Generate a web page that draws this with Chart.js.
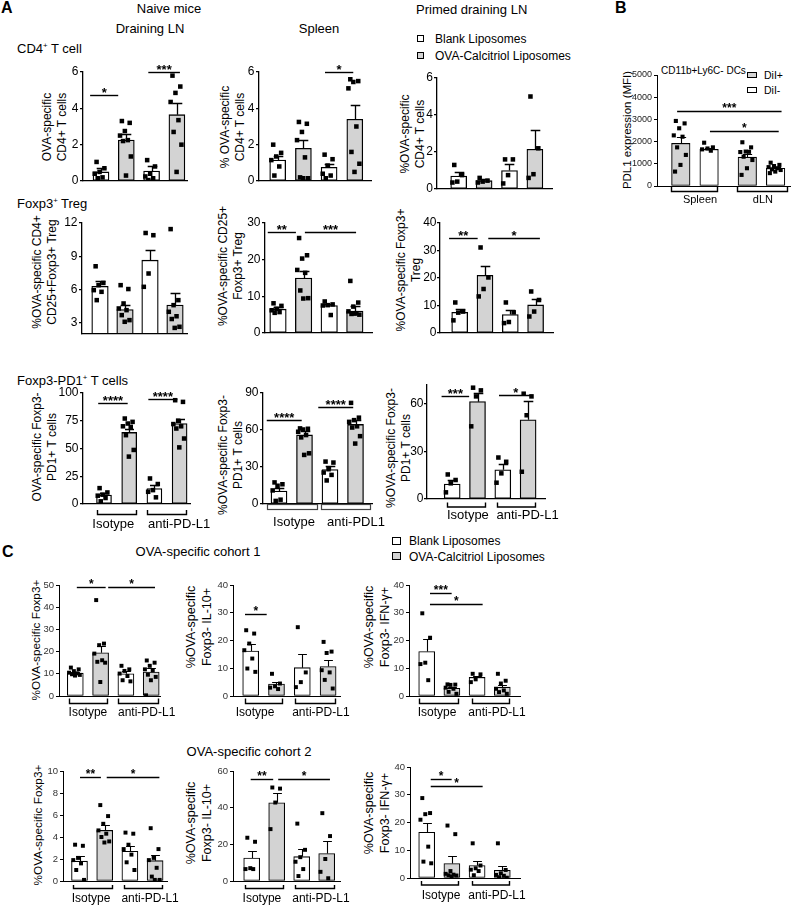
<!DOCTYPE html>
<html><head><meta charset="utf-8"><title>Figure</title>
<script src="https://cdn.jsdelivr.net/npm/chart.js@4.4.1/dist/chart.umd.min.js"></script>
<style>
html,body{margin:0;padding:0;background:#fff;overflow:hidden;width:796px;height:905px;}
#fig{position:relative;width:796px;height:905px;overflow:hidden;font-family:'Liberation Sans',Arial,Helvetica,sans-serif;color:#000;}
.t{position:absolute;white-space:nowrap;line-height:1;}
.t sup{font-size:0.6em;vertical-align:0.55em;line-height:0;}
.yt{position:absolute;white-space:nowrap;text-align:center;line-height:1.25;transform:translate(-50%,-50%) rotate(-90deg);}
canvas{position:absolute;}
.sq{position:absolute;box-sizing:border-box;border:1px solid #000;}
</style></head>
<body><div id="fig"></div>
<script>
// ---------- colours ----------
const WHITE = '#ffffff', GREY = '#d3d3d3';
const fillWG = [WHITE, GREY, WHITE, GREY];
const fillGW = [GREY, WHITE, GREY, WHITE];

// ---------- group labels ----------
const grpIso  = ['Isotype', 'anti-PD-L1'];
const grpIsoB = ['Isotype', 'anti-PDL1'];
const grpOrg  = ['Spleen', 'dLN'];

// ---------- tick labels ----------
const tA11 = [0, 2, 4, 6], tA12 = [0, 2, 4, 6], tA13 = [0, 2, 4, 6];
const tB   = [0, 1000, 2000, 3000, 4000, 5000];
const tA21 = [3, 6, 9, 12], tA22 = [0, 10, 20, 30], tA23 = [0, 10, 20, 30, 40];
const tA31 = [0, 25, 50, 75, 100], tA32 = [0, 30, 60, 90], tA33 = [0, 30, 60];
const tC11 = [0, 10, 20, 30, 40, 50], tC12 = [0, 10, 20, 30, 40], tC13 = [0, 10, 20, 30, 40];
const tC21 = [0, 2, 4, 6, 8, 10], tC22 = [0, 20, 40, 60], tC23 = [0, 10, 20, 30, 40];

// ---------- A: CD4+ T cells ----------
const a11Mean = [0.5, 2.25, 0.55, 3.65];
const a11Sem  = [0.2, 0.35, 0.25, 0.65];
const a11Pts  = [[1.05,0.7,0.5,0.4,0.2,0.15],[3.3,3.2,2.75,2.5,2.25,2.2,1.35,0.3],[1.15,0.8,0.4,0.25,0.15,0.05],[5.8,5.2,4.85,4.35,3.35,2.7,2.0,0.5]];
const a11Sig  = [[-0.43,0.68,4.75,'*'],[1.87,3.12,6.0,'***']];

const a12Mean = [1.15, 1.8, 0.75, 3.4];
const a12Sem  = [0.25, 0.45, 0.2, 0.8];
const a12Pts  = [[2.0,1.55,1.35,1.15,0.8,0.3],[3.25,3.15,2.7,2.25,1.3,0.2,0.15,0.15],[1.45,1.2,0.85,0.4,0.3,0.15],[5.6,5.5,5.45,5.1,3.0,1.6,0.95,0.5]];
const a12Sig  = [[1.84,2.94,6.0,'*']];

const a13Mean = [0.7, 0.45, 1.0, 2.15];
const a13Sem  = [0.2, 0.1, 0.35, 1.05];
const a13Pts  = [[1.3,0.75,0.4,0.35],[0.6,0.45,0.4,0.35],[1.6,1.6,0.75,0.3],[5.0,2.2,0.8,0.6]];
const a13Sig  = [];

// ---------- B: PDL1 MFI ----------
const bMean = [1920, 1650, 1300, 800];
const bSem  = [300, 80, 150, 60];
const bPts  = [[2930,2820,2600,2280,2220,1740,1400,950,650],[1950,1740,1690,1650,1590],[1970,1740,1550,1530,1540,1320,1170,800,500],[1050,950,900,850,800,750,720,650,580]];
const bSig  = [[-0.13,3.56,3400,'***'],[1.03,3.46,2500,'*']];

// ---------- A: Foxp3+ Treg ----------
const a21Mean = [6.3, 4.2, 8.65, 4.6];
const a21Sem  = [0.5, 0.45, 0.95, 1.05];
const a21Pts  = [[8.1,6.6,6.4,5.95,5.8,5.05],[6.4,6.05,4.75,4.3,4.15,3.7,3.25,3.1],[11.1,10.9,7.45,6.25],[11.45,5.05,4.6,4.0,3.6,3.35,2.65,2.55]];
const a21Sig  = [];

const a22Mean = [6.5, 15, 7.5, 6.0];
const a22Sem  = [0.6, 2.0, 0.3, 1.3];
const a22Pts  = [[8.1,7.4,6.6,6.2,5.7,5.5],[25.9,21.2,20.3,17.2,16.4,11.6,9.5,9.4],[8.6,7.8,7.6,7.5,4.9],[14.2,8.3,7.2,5.9,5.4,5.2,5.0,5.3]];
const a22Sig  = [[-0.4,0.7,27.6,'**'],[1.05,3.05,27.6,'***']];

const a23Mean = [7.5, 21, 6.7, 10.2];
const a23Sem  = [1.3, 3.5, 1.7, 2.1];
const a23Pts  = [[11.1,7.8,7.4,4.6],[31.1,20.2,16.0,13.3],[11.1,7.5,4.0,3.6],[15.1,12.0,7.8,6.0]];
const a23Sig  = [[-0.42,0.71,34.4,'**'],[1.13,3.17,34.4,'*']];

// ---------- A: Foxp3-PD1+ T cells ----------
const a31Mean = [8, 64.5, 14, 72.5];
const a31Sem  = [1.8, 3.5, 3.0, 4.5];
const a31Pts  = [[14.3,10.4,8.4,7.5,5.4,2.4],[77,74,72.5,70,69.5,62,48.7,42.7],[23,18,12.5,11,6],[93.5,92,75,72,70,68,59,51]];
const a31Sig  = [[-0.23,0.94,91,'****'],[1.76,2.91,95,'****']];

const a32Mean = [10.5, 56, 28, 64.5];
const a32Sem  = [2.5, 3.0, 2.5, 3.5];
const a32Pts  = [[17.5,16,14.8,11,3.5,2.5],[61.3,61,60.4,58.6,55.9,54,41.1,39.8],[34.4,33.6,28.2,25.5,23.6,19.1],[82,70,68,66.6,63,62,55,49]];
const a32Sig  = [[-0.48,0.89,68,'****'],[1.54,2.91,78.7,'****']];

const a33Mean = [9.5, 61.5, 18.5, 50];
const a33Sem  = [2.8, 5.5, 3.8, 12];
const a33Pts  = [[15.5,12,9.9,4.2],[70.3,68.6,64.8,45.9],[26.2,23.5,16.2,10.3],[66.5,64.8,52.9,17.2]];
const a33Sig  = [[-0.42,0.67,65.2,'***'],[1.85,3.18,65.7,'*']];

// ---------- C: cohort 1 ----------
const c11Mean = [10.3, 19.5, 10, 10.8];
const c11Sem  = [0.5, 3.0, 1.2, 1.7];
const c11Pts  = [[12.8,12,11.2,10.5,10.2,9.8,9.5,9.2],[43.2,23.6,22.9,19.1,16.1,15.4,15,6.3],[13.6,12,11.3,10.1,9,7.1,6.6],[16,15,13.6,12,11.6,9.6,8.6,7.1,0.3]];
const c11Sig  = [[0.06,1.2,49,'*'],[1.3,3.15,49,'*']];

const c12Mean = [16.2, 4.3, 10.2, 10.6];
const c12Sem  = [2.4, 0.9, 5.0, 2.5];
const c12Pts  = [[23.7,22.5,18.9,16.5,13.5,9.9,8.7],[8,4.5,3.5,3,2.5],[24.8,8.5,5,3.2],[19.5,16,15.5,9.3,8.5,5.8,2.7]];
const c12Sig  = [[-0.22,0.62,29.4,'*']];

const c13Mean = [16, 2.8, 6.7, 3.2];
const c13Sem  = [4.5, 0.6, 0.6, 0.9];
const c13Pts  = [[29.8,21,12,11.5,5.7],[4.2,4.1,4,3,2.6,1.5,0.8],[8,7.8,6,5],[8,5.5,4.5,2.6,2,1.4,0.8]];
const c13Sig  = [[0.13,0.99,37,'***'],[0.13,2.22,33.1,'*']];

// ---------- C: cohort 2 ----------
const c21Mean = [1.8, 4.6, 2.7, 1.85];
const c21Sem  = [0.45, 0.5, 0.45, 0.55];
const c21Pts  = [[3.3,3.2,2.1,1.9,1.6,1.0,0.1],[6.9,5.9,5.2,4.6,4.3,4.0,3.6,3.5],[4.4,4.3,3.3,2.9,2.4,1.7,1.0],[4.8,2.9,2.1,1.9,1.2,0.4,0.1,0.1]];
const c21Sig  = [[0.02,0.85,9.46,'**'],[1.08,3.17,9.46,'*']];

const c22Mean = [12.5, 42.7, 13.3, 15];
const c22Sem  = [4.0, 5.5, 4.0, 6.8];
const c22Pts  = [[23.6,21.4,7,6.5,6.5],[51,50.4,42.8,28.3],[31.3,17,13,10.5,6.5,2.7],[37,24.5,12,5,1.5]];
const c22Sig  = [[-0.04,0.86,55.5,'**'],[1.06,3.13,55.5,'*']];

const c23Mean = [16.5, 5.2, 4.5, 2.8];
const c23Sem  = [3.5, 2.8, 1.5, 1.6];
const c23Pts  = [[28.8,23.4,23,21,11.3,5.9,5.3],[18.9,15.8,2.5,1.5,1.2,1.0,0.9,0.5],[12.5,4.5,3.5,3,2.5,1],[12.5,2.9,1.7,1.1,0.8,0.3,0.1]];
const c23Sig  = [[0.16,0.99,35.8,'*'],[0.16,2.22,33,'*']];

// ---------- styles ----------
const FONT = "'Liberation Sans', Arial, Helvetica, sans-serif";
Chart.defaults.font.family = FONT;
const ST = {
  A: {tick:12, tl:3, pad:1.5, axis:1.3, bar:1.3, pr:3.2, star:13, lbl:13, tc:'#000', ebw:1.3, cap:0.6, starDy:1, sp:0.25},
  B: {tick:9, tl:3, pad:2, axis:1, bar:1.1, pr:2.9, star:12, lbl:11, tc:'#222', ebw:1.1, cap:0.5, starDy:0, sp:0.25},
  C: {tick:9.5, tl:3, pad:2, axis:1, bar:1.1, pr:2.8, star:12, lbl:12, tc:'#333', ebw:1.1, cap:0.55, starDy:0, sp:0.25}
};

const fig = document.getElementById('fig');

function txt(html, x, y, size, align) {
  const d = document.createElement('div');
  d.className = 't';
  d.style.left = x + 'px'; d.style.top = y + 'px'; d.style.fontSize = size + 'px';
  d.style.transform = align === 'c' ? 'translate(-50%,-50%)' : 'translateY(-50%)';
  d.innerHTML = html;
  fig.appendChild(d);
}
function ytitle(lines, cx, cy, size) {
  const d = document.createElement('div');
  d.className = 'yt';
  d.style.left = cx + 'px'; d.style.top = cy + 'px'; d.style.fontSize = size + 'px';
  d.innerHTML = lines.join('<br>');
  fig.appendChild(d);
}
function sq(x, y, w, h, fill) {
  const d = document.createElement('div');
  d.className = 'sq';
  d.style.left = x + 'px'; d.style.top = y + 'px'; d.style.width = w + 'px'; d.style.height = h + 'px';
  d.style.background = fill;
  fig.appendChild(d);
}
function jit(k) { return ((k * 0.618034 + 0.15) % 1) - 0.5; }

function panel(L, D) {
  const s = Object.assign({}, ST[L.st], L.ov || {});
  const x0 = Math.round(L.box[0]), yT = Math.round(L.box[1]), x1 = Math.round(L.box[2]), yB = Math.round(L.box[3]);
  const LW = 30, TP = 30, BP = 36, RP = 50;
  const W = (x1 - x0) + LW + RP, H = (yB - yT) + TP + BP;
  const cv = document.createElement('canvas');
  cv.width = W; cv.height = H;
  cv.style.left = (x0 - LW) + 'px'; cv.style.top = (yT - TP) + 'px';
  cv.style.width = W + 'px'; cv.style.height = H + 'px';
  fig.appendChild(cv);
  const pos = L.pos || [0, 1, 2, 3];
  const xmin = -(L.c0 - x0) / L.sp, xmax = xmin + (x1 - x0) / L.sp;
  const pts = [];
  D.pts.forEach((arr, i) => arr.forEach((v, k) => pts.push({x: pos[i] + 2 * s.sp * jit(k), y: v})));

  const deco = {
    id: 'deco',
    afterDatasetDraw(chart, args) {
      if (args.index !== 0) return;
      const ctx = chart.ctx, xs = chart.scales.x, ys = chart.scales.y;
      ctx.save();
      ctx.strokeStyle = '#000'; ctx.lineWidth = s.ebw;
      D.mean.forEach((m, i) => {
        const px = Math.round(xs.getPixelForValue(pos[i])) + 0.5;
        const y0 = ys.getPixelForValue(m), y1 = Math.round(ys.getPixelForValue(m + D.sem[i])) + 0.5;
        const cw = L.bw * s.cap / 2;
        ctx.beginPath();
        ctx.moveTo(px, y0); ctx.lineTo(px, y1);
        ctx.moveTo(px - cw, y1); ctx.lineTo(px + cw, y1);
        ctx.stroke();
      });
      ctx.restore();
    },
    afterDraw(chart) {
      const ctx = chart.ctx, xs = chart.scales.x, ys = chart.scales.y;
      ctx.save();
      ctx.strokeStyle = '#000'; ctx.fillStyle = '#000'; ctx.lineWidth = 1.4;
      ctx.textAlign = 'center';
      ctx.font = 'bold ' + s.star + 'px ' + FONT;
      ctx.textBaseline = 'alphabetic';
      (D.sig || []).forEach(([a, b, v, lab]) => {
        const xa = xs.getPixelForValue(a), xb = xs.getPixelForValue(b);
        const y = Math.round(ys.getPixelForValue(v)) + 0.5;
        ctx.beginPath(); ctx.moveTo(xa, y); ctx.lineTo(xb, y); ctx.stroke();
        ctx.fillText(lab, (xa + xb) / 2, y + s.starDy);
      });
      if (L.g && D.groups) {
        const yb = chart.chartArea.bottom;
        L.g.rng.forEach(([a, b], i) => {
          const xa = Math.round(xs.getPixelForValue(a)) + 0.5, xb = Math.round(xs.getPixelForValue(b)) - 0.5;
          if (L.g.kind === 'box') {
            ctx.fillStyle = '#fff'; ctx.strokeStyle = '#444'; ctx.lineWidth = 1.2;
            ctx.fillRect(xa, yb + 0.5, xb - xa, L.g.bot);
            ctx.strokeRect(xa, yb + 0.5, xb - xa, L.g.bot);
          } else {
            ctx.strokeStyle = '#000'; ctx.lineWidth = 1.4;
            ctx.beginPath();
            ctx.moveTo(xa, yb + L.g.top); ctx.lineTo(xa, yb + L.g.bot);
            ctx.lineTo(xb, yb + L.g.bot); ctx.lineTo(xb, yb + L.g.top);
            ctx.stroke();
          }
          ctx.fillStyle = '#000';
          ctx.font = s.lbl + 'px ' + FONT;
          ctx.textBaseline = 'middle';
          ctx.fillText(D.groups[i], xs.getPixelForValue(L.g.lc[i]), yb + L.g.lbl);
        });
      }
      ctx.restore();
    }
  };

  new Chart(cv, {
    type: 'bar',
    data: {datasets: [
      {type: 'bar', data: D.mean.map((m, i) => ({x: pos[i], y: m})), backgroundColor: D.fill,
       borderColor: '#000', borderWidth: s.bar, borderSkipped: false, barThickness: L.bw, base: L.min, order: 2},
      {type: 'scatter', data: pts, backgroundColor: '#000', borderWidth: 0, pointStyle: 'rect',
       pointRadius: s.pr, pointHoverRadius: s.pr, order: 1}
    ]},
    options: {
      responsive: false, animation: false, events: [],
      layout: {padding: {top: TP, right: RP, left: 0, bottom: 0}},
      plugins: {legend: {display: false}, tooltip: {enabled: false}},
      scales: {
        x: {type: 'linear', min: xmin, max: xmax, offset: false,
            ticks: {display: false}, grid: {display: false, offset: false, drawTicks: false},
            border: {display: true, color: '#000', width: s.axis},
            afterFit: sc => { sc.height = BP; }},
        y: {type: 'linear', min: L.min, max: L.max, beginAtZero: false,
            ticks: {font: {size: s.tick}, color: s.tc, padding: s.pad, autoSkip: false, callback: v => String(v)},
            grid: {display: true, drawOnChartArea: false, drawTicks: true, tickLength: s.tl, color: '#000', lineWidth: s.axis},
            border: {display: true, color: '#000', width: s.axis},
            afterBuildTicks: sc => { sc.ticks = D.ticks.map(v => ({value: v})); },
            afterFit: sc => { sc.width = LW; }}
      }
    },
    plugins: [deco]
  });
}

// ---------- headings ----------
txt('<b>A</b>', 1, 8, 16, 'l');
txt('Naive mice', 169, 8, 13, 'c');
txt('Draining LN', 150, 28, 13, 'c');
txt('Spleen', 319, 28, 13, 'c');
txt('Primed draining LN', 416, 9, 13, 'l');
txt('CD4<sup>+</sup> T cell', 17, 48, 13, 'l');
txt('<b>B</b>', 615, 8, 16, 'l');
txt('CD11b+Ly6C- DCs', 703.5, 71, 10, 'c');
txt('Foxp3<sup>+</sup> Treg', 17, 203, 13, 'l');
txt('Foxp3-PD1<sup>+</sup> T cells', 17, 380, 13, 'l');
txt('<b>C</b>', 2, 552, 16, 'l');
txt('OVA-specific cohort 1', 198, 551, 13, 'c');
txt('OVA-specific cohort 2', 249, 751, 13, 'c');

// ---------- legends ----------
sq(417, 35, 7, 7, WHITE); txt('Blank Liposomes', 435, 38.5, 12, 'l');
sq(417, 52, 7, 7, GREY);  txt('OVA-Calcitriol Liposomes', 435, 56, 12, 'l');
sq(747, 72, 10, 6, GREY);  txt('DiI+', 764, 75, 10.5, 'l');
sq(747, 87, 10, 6, WHITE); txt('DiI-', 764, 90, 10.5, 'l');
sq(392, 537, 9, 8, WHITE); txt('Blank Liposomes', 409, 541, 12, 'l');
sq(392, 552, 9, 8, GREY);  txt('OVA-Calcitriol Liposomes', 409, 556.5, 12, 'l');

// ---------- y titles ----------
ytitle(['OVA-specific', 'CD4+ T cells'], 55, 127, 12);
ytitle(['% OVA-specific', 'CD4+ T cells'], 233, 127, 12);
ytitle(['%OVA-specific', 'CD4+ T cells'], 413, 134, 12);
ytitle(['PDL1 expression (MFI)'], 627, 130, 11.5);
ytitle(['%OVA-specific CD4+', 'CD25+Foxp3+ Treg'], 45, 272, 12);
ytitle(['%OVA-specific CD25+', 'Foxp3+ Treg'], 231, 266, 12);
ytitle(['%OVA-specific Foxp3+', 'Treg'], 409, 270, 12);
ytitle(['OVA-specific Foxp3-', 'PD1+ T cells'], 45, 447, 12);
ytitle(['%OVA-specific Foxp3-', 'PD1+ T cells'], 231, 455, 12);
ytitle(['%OVA-specific Foxp3-', 'PD1+ T cells'], 399, 448, 12);
ytitle(['%OVA-specific Foxp3+'], 36, 640, 11.8);
ytitle(['%OVA-specific', 'Foxp3- IL-10+'], 199.5, 627, 12.5);
ytitle(['%OVA-specific', 'Foxp3- IFN-γ+'], 377.5, 627, 12.5);
ytitle(['%OVA-specific Foxp3+'], 37.5, 825, 11.8);
ytitle(['%OVA-specific', 'Foxp3- IL-10+'], 199.5, 823, 12.5);
ytitle(['%OVA-specific', 'Foxp3- IFN-γ+'], 377.5, 813, 12.5);

// ---------- panels ----------
panel({box:[83,72,187,181], c0:101, sp:25.3, bw:16, min:0, max:6, st:'A'},
      {mean:a11Mean, sem:a11Sem, pts:a11Pts, sig:a11Sig, ticks:tA11, fill:fillWG});
panel({box:[259,72,371,181], c0:277.7, sp:25.7, bw:16, min:0, max:6, st:'A'},
      {mean:a12Mean, sem:a12Sem, pts:a12Pts, sig:a12Sig, ticks:tA12, fill:fillWG});
panel({box:[437,78,552,189], c0:458.7, sp:25.4, bw:16, min:0, max:6, st:'A', ov:{pad:1}},
      {mean:a13Mean, sem:a13Sem, pts:a13Pts, sig:a13Sig, ticks:tA13, fill:fillWG});
panel({box:[657,75,790,186], c0:680.8, sp:28.3, pos:[0,1,2.35,3.35], bw:18.5, min:0, max:5000, st:'B',
       g:{kind:'br', rng:[[-0.36,1.33],[1.99,3.79]], lc:[0.68,2.9], top:0.5, bot:5.5, lbl:14}},
      {mean:bMean, sem:bSem, pts:bPts, sig:bSig, ticks:tB, fill:fillGW, groups:grpOrg});
panel({box:[82,223,187,334], c0:100, sp:25, bw:16.5, min:2, max:12, st:'A'},
      {mean:a21Mean, sem:a21Sem, pts:a21Pts, sig:a21Sig, ticks:tA21, fill:fillWG});
panel({box:[265,223,372,333], c0:278, sp:25.6, bw:16.5, min:0, max:30, st:'A'},
      {mean:a22Mean, sem:a22Sem, pts:a22Pts, sig:a22Sig, ticks:tA22, fill:fillWG});
panel({box:[440,223,553,333], c0:459.7, sp:25.3, bw:16, min:0, max:40, st:'A', ov:{pad:0.5}},
      {mean:a23Mean, sem:a23Sem, pts:a23Pts, sig:a23Sig, ticks:tA23, fill:fillWG});
panel({box:[83,393,190,504], c0:104, sp:25.2, bw:15, min:0, max:100, st:'A',
       g:{kind:'br', rng:[[-0.29,1.3],[1.69,3.3]], lc:[0.37,2.98], top:6, bot:10.5, lbl:20}},
      {mean:a31Mean, sem:a31Sem, pts:a31Pts, sig:a31Sig, ticks:tA31, fill:fillWG, groups:grpIso});
panel({box:[263,393,372,504], c0:279, sp:25.5, bw:16, min:0, max:90, st:'A',
       g:{kind:'box', rng:[[-0.48,1.54],[1.64,3.62]], lc:[0.59,3.02], top:0, bot:5, lbl:18}},
      {mean:a32Mean, sem:a32Sem, pts:a32Pts, sig:a32Sig, ticks:tA32, fill:fillWG, groups:grpIsoB});
panel({box:[427,385,545,499], c0:452.2, sp:25.3, bw:16, min:0, max:72, st:'A', ov:{pad:0.5},
       g:{kind:'br', rng:[[-0.22,1.34],[1.76,3.31]], lc:[0.62,2.98], top:3.5, bot:8, lbl:16}},
      {mean:a33Mean, sem:a33Sem, pts:a33Pts, sig:a33Sig, ticks:tA33, fill:fillWG, groups:grpIso});
panel({box:[59,585,160,696], c0:75.3, sp:25.3, bw:16, min:0, max:50, st:'C',
       g:{kind:'br', rng:[[-0.24,1.3],[1.7,3.32]], lc:[0.5,2.82], top:2.5, bot:7.5, lbl:16.5}},
      {mean:c11Mean, sem:c11Sem, pts:c11Pts, sig:c11Sig, ticks:tC11, fill:fillWG, groups:grpIso});
panel({box:[233,585,340,696], c0:250.7, sp:25.8, bw:16, min:0, max:40, st:'C',
       g:{kind:'br', rng:[[-0.22,1.26],[1.72,3.31]], lc:[0.17,2.72], top:2.5, bot:7.5, lbl:16.5}},
      {mean:c12Mean, sem:c12Sem, pts:c12Pts, sig:c12Sig, ticks:tC12, fill:fillWG, groups:grpIso});
panel({box:[409,585,520,696], c0:426.7, sp:25.2, bw:16, min:0, max:40, st:'C',
       g:{kind:'br', rng:[[-0.29,1.29],[1.79,3.31]], lc:[0.41,2.79], top:2.5, bot:7.5, lbl:16.5}},
      {mean:c13Mean, sem:c13Sem, pts:c13Pts, sig:c13Sig, ticks:tC13, fill:fillWG, groups:grpIso});
panel({box:[63,771,167,881], c0:79.5, sp:25.2, bw:16, min:0, max:10, st:'C',
       g:{kind:'br', rng:[[-0.25,1.32],[1.77,3.33]], lc:[0.46,2.8], top:4, bot:7.5, lbl:17.3}},
      {mean:c21Mean, sem:c21Sem, pts:c21Pts, sig:c21Sig, ticks:tC21, fill:fillWG, groups:grpIso});
panel({box:[233,771,340,881], c0:251.7, sp:25, bw:16, min:0, max:60, st:'C',
       g:{kind:'br', rng:[[-0.27,1.29],[1.73,3.33]], lc:[0.41,2.77], top:4, bot:7.5, lbl:17.3}},
      {mean:c22Mean, sem:c22Sem, pts:c22Pts, sig:c22Sig, ticks:tC22, fill:fillWG, groups:grpIso});
panel({box:[410,767,520,878], c0:426.7, sp:25.2, bw:16, min:0, max:40, st:'C',
       g:{kind:'br', rng:[[-0.24,1.29],[1.79,3.31]], lc:[0.57,2.79], top:3, bot:7, lbl:17.7}},
      {mean:c23Mean, sem:c23Sem, pts:c23Pts, sig:c23Sig, ticks:tC23, fill:fillWG, groups:grpIso});
</script>
</body></html>
